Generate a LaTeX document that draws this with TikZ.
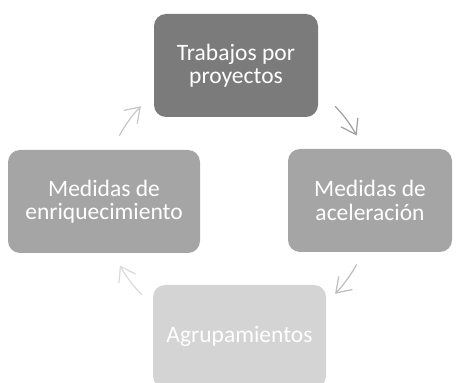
\documentclass[tikz,border=0pt]{standalone}
\usepackage{fontspec}
\setmainfont{Carlito}
\usetikzlibrary{arrows.meta}
\definecolor{boxtop}{HTML}{7B7B7B}
\definecolor{boxside}{HTML}{A5A5A5}
\definecolor{boxbot}{HTML}{D4D4D4}
\definecolor{arrA}{HTML}{9E9E9E}
\definecolor{arrB}{HTML}{BDBDBD}
\definecolor{arrC}{HTML}{DADADA}
\definecolor{arrD}{HTML}{C6C6C6}
\begin{document}
\begin{tikzpicture}[x=1pt,y=1pt,
  stagebox/.style={rounded corners=12pt, minimum height=103pt, align=center,
    text=white, font=\fontsize{23.5}{23.5}\selectfont, inner sep=0pt},
  cyc/.style={line width=1.2pt, -{Straight Barb[length=14pt,width=19pt]}}]
\useasboundingbox (0,0) rectangle (458,383);
\node[stagebox, fill=boxtop, minimum width=164pt] (trab) at (236,317.5) {Trabajos por\\proyectos};
\node[stagebox, fill=boxside, minimum width=164pt] (acel) at (370,182.5) {Medidas de\\aceleración};
\node[stagebox, fill=boxbot, minimum width=173pt] (agru) at (239.5,46.5) {Agrupamientos};
\node[stagebox, fill=boxside, minimum width=192pt] (enri) at (104,181.5) {Medidas de\\enriquecimiento};
\coordinate (c) at (238,183);
\coordinate (a1) at ([shift={(44:135)}]c);
\coordinate (a2) at ([shift={(-28.5:135)}]c);
\coordinate (a3) at ([shift={(-135.5:135)}]c);
\coordinate (a4) at ([shift={(151.5:135)}]c);
\draw[cyc, draw=arrA] (a1) arc[start angle=44, end angle=28.5, radius=135];
\draw[cyc, draw=arrB] (a2) arc[start angle=-28.5, end angle=-44, radius=135];
\draw[cyc, draw=arrC] (a3) arc[start angle=-135.5, end angle=-151, radius=135];
\draw[cyc, draw=arrD] (a4) arc[start angle=151.5, end angle=136, radius=135];
\end{tikzpicture}
\end{document}
